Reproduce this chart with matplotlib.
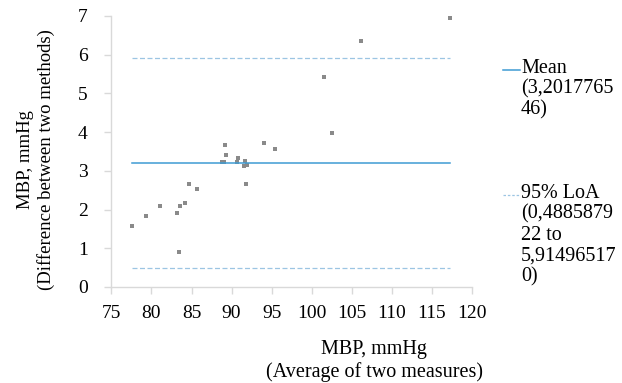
import numpy as np
import matplotlib
matplotlib.use("Agg")
import matplotlib.pyplot as plt
from matplotlib.lines import Line2D

plt.rcParams['font.family'] = ['Liberation Serif', 'DejaVu Serif']

# average of two measures (x) and difference between methods (y)
media = [77.6, 79.35, 81.1, 83.17, 83.42, 83.58, 84.2, 84.7, 85.66,
         88.85, 89.1, 89.14, 89.3, 90.67, 90.8, 91.5, 91.67, 91.88, 91.75,
         94.08, 95.36, 101.5, 102.5, 106.2, 117.3]
diferenca = [1.57, 1.84, 2.08, 1.92, 0.90, 2.10, 2.18, 2.67, 2.52,
             3.22, 3.22, 3.67, 3.40, 3.22, 3.32, 3.12, 3.26, 3.16, 2.67,
             3.72, 3.55, 5.43, 3.97, 6.35, 6.95]

media_dif = 3.201776546
loa_inf = 0.488587922
loa_sup = 5.914965170

xticks = [75, 80, 85, 90, 95, 100, 105, 110, 115, 120]
yticks = [0, 1, 2, 3, 4, 5, 6, 7]

cor_media = '#3f9bd3'
cor_loa = '#9cc5e3'
cor_eixo = '#d9d9d9'

fig = plt.figure(figsize=(6.22, 3.83), dpi=100)
ax = fig.add_axes([0.179, 0.2507, 0.58, 0.708])

ax.plot(media, diferenca, 's', color='#8a8a8a', markersize=2.6, markeredgewidth=0)

x0, x1 = min(media), max(media)
ax.plot([x0, x1], [media_dif, media_dif], color=cor_media, linewidth=1.1)
ax.plot([x0, x1], [loa_inf, loa_inf], color=cor_loa, linewidth=0.9, dashes=(4, 2))
ax.plot([x0, x1], [loa_sup, loa_sup], color=cor_loa, linewidth=0.9, dashes=(4, 2))

ax.set_xlim(75, 120)
ax.set_ylim(0, 7)
ax.set_xticks(xticks)
ax.set_yticks(yticks)
ax.spines['top'].set_visible(False)
ax.spines['right'].set_visible(False)
for s in ['left', 'bottom']:
    ax.spines[s].set_color(cor_eixo)
    ax.spines[s].set_linewidth(1)
ax.tick_params(axis='both', colors=cor_eixo, labelcolor='black', labelsize=14,
               length=5, width=1)
ax.tick_params(axis='y', pad=12)
ax.tick_params(axis='x', pad=8)

# rotulos dos eixos
fig.text(374 / 622, 1 - 361 / 383, 'MBP, mmHg\n(Average of two measures)',
         ha='center', va='center', fontsize=14.5, linespacing=1.2)
fig.text(36 / 622, 1 - 160 / 383, 'MBP, mmHg\n(Difference between two methods)',
         ha='center', va='center', rotation=90, fontsize=13.5, linespacing=1.17)

# legenda
fig.add_artist(Line2D([503 / 622, 520 / 622], [1 - 70 / 383, 1 - 70 / 383],
                      color=cor_media, linewidth=1.1))
fig.text(521 / 622, 1 - 59 / 383, 'Mean\n(3,2017765\n46)',
         ha='left', va='top', fontsize=14.5, linespacing=1.12)
fig.add_artist(Line2D([503 / 622, 520 / 622], [1 - 195 / 383, 1 - 195 / 383],
                      color=cor_loa, linewidth=0.9, dashes=(2, 1.5)))
fig.text(521 / 622, 1 - 184 / 383, '95% LoA\n(0,4885879\n22 to\n5,91496517\n0)',
         ha='left', va='top', fontsize=14.5, linespacing=1.12)

fig.savefig('out.png', dpi=100)
